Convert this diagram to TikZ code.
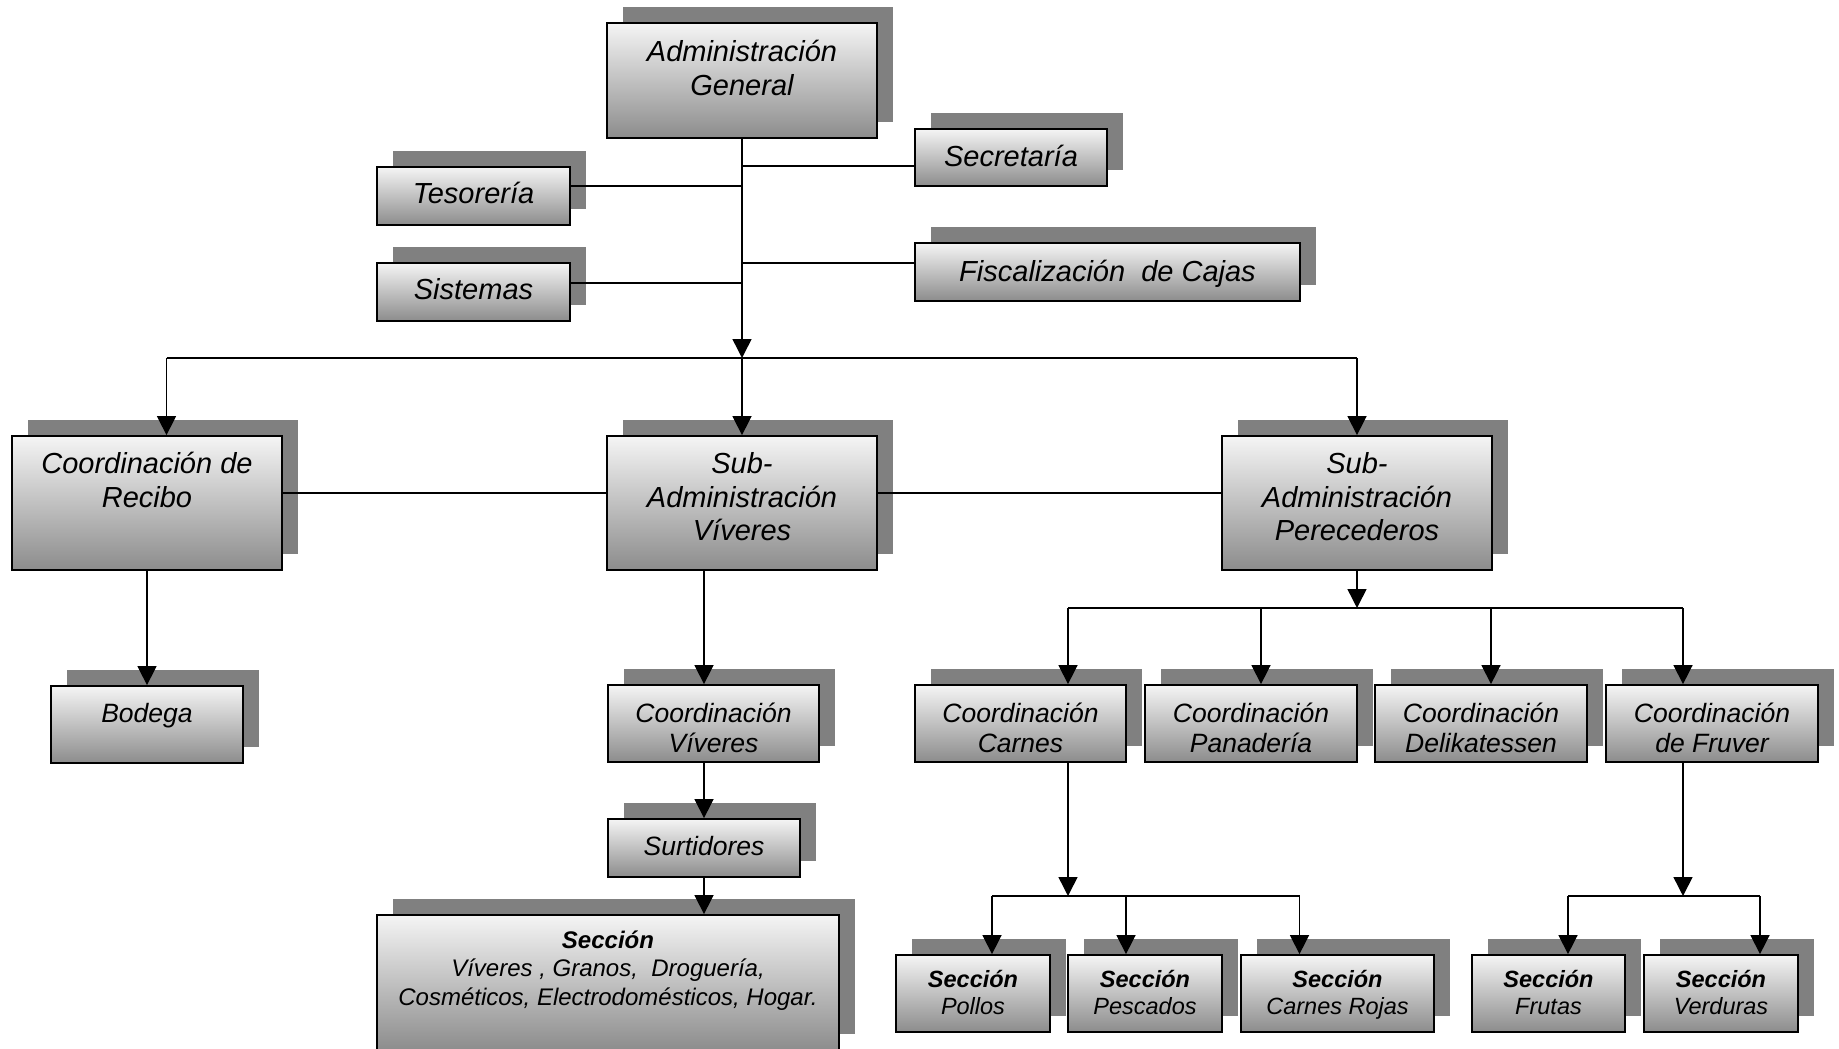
\documentclass[tikz,border=0pt]{standalone}
\usepackage{fontspec}
\setmainfont{Liberation Sans}
\usetikzlibrary{arrows.meta}

\tikzset{
  shadowbox/.style={fill=black!50, draw=none},
  orgnode/.style={rectangle, draw=black, line width=1.8pt,
    top color=black!4, bottom color=black!45, inner sep=0pt},
  lbl/.style={anchor=base, inner sep=0pt},
  txtbig/.style={lbl, font=\fontsize{29}{33.5}\selectfont\itshape},
  txtmid/.style={lbl, font=\fontsize{26.5}{30}\selectfont\itshape},
  txtsv/.style={lbl, font=\fontsize{24}{28.5}\selectfont\itshape},
  txtsmall/.style={lbl, font=\fontsize{23.5}{27}\selectfont\itshape},
  link/.style={draw=black, line width=1.5pt},
  arr/.style={link, -{Triangle[length=19pt,width=19pt]}},
}

% centred lines, baseline on the first line
\newcommand\boxlines[1]{\begin{tabular}[t]{@{}c@{}}#1\end{tabular}}

% #1 name, #2 left, #3 top, #4 right, #5 bottom, #6 text style, #7 first baseline below top, #8 text
\newcommand\orgbox[8]{%
  \fill[shadowbox] ({#2+16},{#3-16}) rectangle ({#4+16},{#5-16});
  \node[orgnode, minimum width={#4-#2}, minimum height={#5-#3}]
    (#1) at ({(#2+#4)/2},{(#3+#5)/2}) {};
  \node[#6] (#1-text) at ({(#2+#4)/2},{#3+#7}) {\boxlines{#8}};
}

\begin{document}
\begin{tikzpicture}[x=1pt, y=-1pt]
\useasboundingbox (0,0) rectangle (1839,1049);
\clip (0,0) rectangle (1839,1049);

% --- management level
\orgbox{adm}{607}{23}{877}{138}{txtbig}{39}{Administración\\General}
\orgbox{sec}{915}{129}{1107}{186}{txtbig}{37}{Secretaría}
\orgbox{tes}{377}{167}{570}{225}{txtbig}{36.5}{Tesorería}
\orgbox{sis}{377}{263}{570}{321}{txtbig}{36.5}{Sistemas}
\orgbox{fis}{915}{243}{1300}{301}{txtbig}{38}{Fiscalización\ \ de Cajas}

% --- second level
\orgbox{rec}{12}{436}{282}{570}{txtbig}{37.5}{Coordinación de\\Recibo}
\orgbox{sav}{607}{436}{877}{570}{txtbig}{37.5}{Sub-\\Administración\\Víveres}
\orgbox{sap}{1222}{436}{1492}{570}{txtbig}{37.5}{Sub-\\Administración\\Perecederos}

% --- coordinations
\orgbox{bod}{51}{686}{243}{763}{txtmid}{36}{Bodega}
\orgbox{cv}{608}{685}{819}{762}{txtmid}{37}{Coordinación\\Víveres}
\orgbox{sur}{608}{819}{800}{877}{txtmid}{36}{Surtidores}
\orgbox{svv}{377}{915}{839}{1050}{txtsv}{33}{\textbf{Sección}\\Víveres , Granos,\ \ Droguería,\\Cosméticos, Electrodomésticos, Hogar.}
\orgbox{cc}{915}{685}{1126}{762}{txtmid}{37}{Coordinación\\Carnes}
\orgbox{cp}{1145}{685}{1357}{762}{txtmid}{37}{Coordinación\\Panadería}
\orgbox{cd}{1375}{685}{1587}{762}{txtmid}{37}{Coordinación\\Delikatessen}
\orgbox{cf}{1606}{685}{1818}{762}{txtmid}{37}{Coordinación\\de Fruver}

% --- sections
\orgbox{pol}{896}{955}{1050}{1032}{txtsmall}{32}{\textbf{Sección}\\Pollos}
\orgbox{pes}{1068}{955}{1222}{1032}{txtsmall}{32}{\textbf{Sección}\\Pescados}
\orgbox{cro}{1241}{955}{1434}{1032}{txtsmall}{32}{\textbf{Sección}\\Carnes Rojas}
\orgbox{fru}{1472}{955}{1625}{1032}{txtsmall}{32}{\textbf{Sección}\\Frutas}
\orgbox{ver}{1644}{955}{1798}{1032}{txtsmall}{32}{\textbf{Sección}\\Verduras}

% --- junction points
\coordinate (jSec) at (742,166);
\coordinate (jTes) at (742,186);
\coordinate (jFis) at (742,263);
\coordinate (jSis) at (742,283);
\coordinate (busL) at (166.5,358);
\coordinate (busC) at (742,358);
\coordinate (busR) at (1357,358);
\coordinate (midrow) at (0,493);
\coordinate (vx) at (704,0);
\coordinate (pbus) at (1357,608);
\coordinate (p1) at (1068,608);
\coordinate (p2) at (1261,608);
\coordinate (p3) at (1491,608);
\coordinate (p4) at (1683,608);
\coordinate (cbus) at (1068,896);
\coordinate (c1) at (992,896);
\coordinate (c2) at (1126,896);
\coordinate (c3) at (1299.5,896);
\coordinate (fbus) at (1683,896);
\coordinate (f1) at (1568,896);
\coordinate (f2) at (1760,896);

% --- connectors: staff units
\draw[arr] (adm.south) -- (busC);
\draw[link] (jSec) -- (jSec -| sec.west);
\draw[link] (jFis) -- (jFis -| fis.west);
\draw[link] (jTes) -- (jTes -| tes.east);
\draw[link] (jSis) -- (jSis -| sis.east);

% --- connectors: second level
\draw[link] (busL) -- (busR);
\draw[arr] (busL) -- (busL |- rec.north);
\draw[arr] (busC) -- (sav.north);
\draw[arr] (busR) -- (sap.north);
\draw[link] (rec.east |- midrow) -- (sav.west |- midrow);
\draw[link] (sav.east |- midrow) -- (sap.west |- midrow);

% --- receiving and groceries
\draw[arr] (rec.south) -- (bod.north);
\draw[arr] (vx |- sav.south) -- (vx |- cv.north);
\draw[arr] (vx |- cv.south) -- (sur.north);
\draw[arr] (sur.south) -- (vx |- svv.north);

% --- perishables
\draw[arr] (sap.south) -- (pbus);
\draw[link] (p1) -- (p4);
\draw[arr] (p1) -- (p1 |- cc.north);
\draw[arr] (p2) -- (p2 |- cp.north);
\draw[arr] (p3) -- (p3 |- cd.north);
\draw[arr] (p4) -- (p4 |- cf.north);

% --- meat sections
\draw[arr] (cbus |- cc.south) -- (cbus);
\draw[link] (c1) -- (c3);
\draw[arr] (c1) -- (c1 |- pol.north);
\draw[arr] (c2) -- (c2 |- pes.north);
\draw[arr] (c3) -- (c3 |- cro.north);

% --- fruit and vegetable sections
\draw[arr] (fbus |- cf.south) -- (fbus);
\draw[link] (f1) -- (f2);
\draw[arr] (f1) -- (f1 |- fru.north);
\draw[arr] (f2) -- (f2 |- ver.north);
\end{tikzpicture}
\end{document}
